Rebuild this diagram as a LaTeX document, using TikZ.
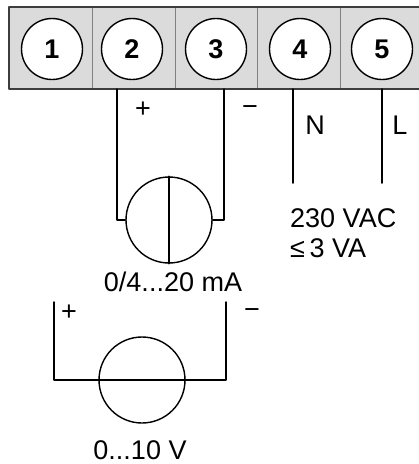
\documentclass[tikz,border=0pt]{standalone}
\usepackage{fontspec}
\setmainfont{Liberation Sans}
\definecolor{dcdcdc}{rgb}{0.86,0.86,0.86}
\definecolor{bsbsbs}{rgb}{0.24,0.24,0.24}
\definecolor{gqgqgq}{rgb}{0.5,0.5,0.5}
\tikzset{
  term/.style={draw=black,fill=white,circle,line width=1.4pt,minimum size=61pt,inner sep=0pt,font=\fontsize{27}{32}\selectfont\bfseries},
  wire/.style={line width=1.5pt},
  src/.style={draw=black,circle,line width=1.4pt,minimum size=86pt,inner sep=0pt},
  lbl/.style={font=\fontsize{27}{32}\selectfont,inner sep=0pt}
}
\begin{document}
\begin{tikzpicture}[line cap=round,line join=round,x=1pt,y=-1pt]
\useasboundingbox (0,0) rectangle (419,464);
% terminal strip
\begin{scope}
\clip (0,0) rectangle (419,464);
\fill[color=dcdcdc] (9,7) rectangle (430,89);
\foreach \x in {92,175,257,340}
\draw[color=gqgqgq,line width=1pt] (\x,7) -- (\x,89);
\draw[color=bsbsbs,line width=1.8pt] (430,7) -- (9,7) -- (9,89) -- (430,89);
\end{scope}
\foreach \x/\n in {52/1,132/2,216/3,300/4,382/5}
\node[term] (t\n) at (\x,49) {\n};
% current input
\node[src] (cur) at (169,220) {};
\draw[wire] (cur.north) -- (cur.south);
\coordinate (p2) at (117,89);
\coordinate (p3) at (224,89);
\draw[wire] (p2) |- (cur.west);
\draw[wire] (p3) |- (cur.east);
\node[lbl] (plus2) at (143,110) {+};
\node[lbl] (minus3) at (250,111) {−};
\node[lbl] (curlbl) at (173,282) {0/4...20 mA};
% supply
\coordinate (pN) at (293,89);
\coordinate (pL) at (382,89);
\coordinate (eN) at (293,183);
\coordinate (eL) at (382,183);
\draw[wire] (pN) -- (eN);
\draw[wire] (pL) -- (eL);
\node[lbl] (nlbl) at (315,125) {N};
\node[lbl] (llbl) at (400,125) {L};
\node[lbl,anchor=west] (vac) at (290,218) {230 VAC};
\node[lbl,anchor=west] (va) at (290,248) {≤\,3 VA};
% voltage input
\node[src] (volt) at (142,380) {};
\coordinate (vp) at (54,302);
\coordinate (vm) at (226,302);
\draw[wire] (vp) -- (vp |- volt) -- (vm |- volt) -- (vm);
\node[lbl] (plusv) at (69,313) {+};
\node[lbl] (minusv) at (252,314) {−};
\node[lbl] (voltlbl) at (140,450) {0...10 V};
\end{tikzpicture}
\end{document}
